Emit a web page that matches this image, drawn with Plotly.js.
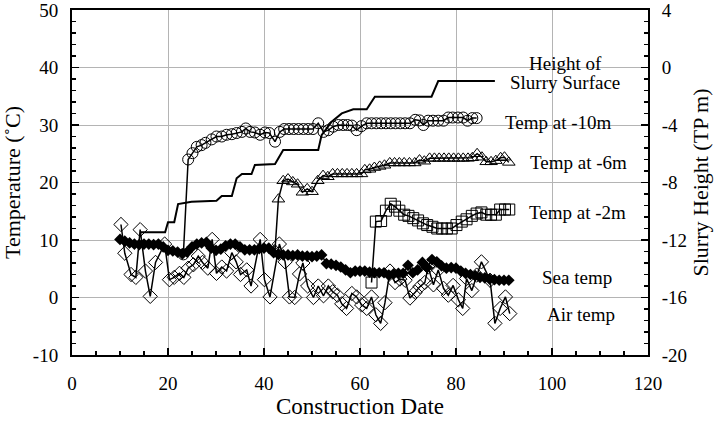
<!DOCTYPE html>
<html>
<head>
<meta charset="utf-8">
<script src="https://cdn.plot.ly/plotly-3.0.1.min.js"></script>
<style>html,body{margin:0;padding:0;background:#fff;}#chart{width:716px;height:425px;}</style>
</head>
<body>
<div id="chart"></div>
<script>
// Height of slurry surface (TP m, right axis)
const slurryX = [14.2, 19.4, 20.0, 21.3, 22.1, 24.9, 30.1, 31.2, 33.3, 34.3, 35.4, 37.4, 38.1, 42.3, 44.0, 51.3, 52.0, 54.1, 56.2, 58.6, 61.4, 63.1, 74.9, 76.3, 88.1];
const slurryH = [-11.46, -11.46, -10.77, -10.77, -9.50, -9.34, -9.27, -8.94, -8.94, -7.71, -7.41, -7.41, -6.78, -6.71, -5.74, -5.74, -4.70, -3.77, -3.19, -2.91, -2.91, -2.03, -2.03, -0.94, -0.94];

// Temp at -10m
const t10X = [23.2, 24.2, 25.1, 26.0, 27.0, 27.8, 29.1, 30.1, 31.2, 32.2, 33.3, 34.3, 35.4, 36.2, 37.1, 38.1, 39.2, 40.2, 41.1, 42.3, 43.3, 44.2, 45.2, 46.2, 47.2, 48.2, 49.2, 50.2, 51.3, 52.4, 53.4, 54.4, 55.5, 56.5, 57.4, 58.3, 59.3, 60.3, 61.4, 62.4, 63.4, 64.4, 65.4, 66.4, 67.4, 68.4, 69.4, 70.4, 71.5, 72.4, 73.2, 74.2, 75.2, 76.3, 77.4, 78.4, 79.3, 80.4, 81.5, 82.4, 83.4, 84.3];
const t10Y = [7.5, 24.0, 25.1, 26.2, 26.5, 26.9, 27.5, 28.0, 28.0, 28.3, 28.4, 28.6, 28.8, 29.4, 28.8, 28.7, 28.3, 28.7, 28.6, 27.1, 28.8, 29.3, 29.3, 29.3, 29.3, 29.3, 29.3, 29.3, 30.3, 28.8, 29.1, 29.7, 30.0, 30.0, 30.0, 29.9, 29.1, 29.8, 30.3, 30.3, 30.3, 30.3, 30.3, 30.3, 30.3, 30.3, 30.3, 30.3, 30.9, 30.8, 30.0, 30.75, 30.75, 30.75, 30.75, 31.3, 31.3, 31.3, 31.3, 30.75, 31.2, 31.2];

// Temp at -6m
const t6X = [42.3, 43.0, 44.0, 45.0, 46.0, 47.0, 48.0, 49.0, 50.0, 51.2, 52.3, 53.3, 54.3, 55.3, 56.3, 57.3, 58.3, 59.3, 60.3, 61.0, 62.0, 63.0, 64.1, 65.1, 66.2, 67.2, 68.2, 69.2, 70.3, 71.4, 72.4, 73.4, 74.5, 75.5, 76.5, 77.5, 78.5, 79.5, 80.5, 81.5, 82.5, 83.4, 84.4, 85.4, 86.3, 87.3, 88.3, 89.3, 90.1, 91.0];
const t6Y = [8.3, 17.1, 20.3, 20.6, 20.1, 19.7, 18.3, 18.9, 18.4, 20.3, 21.2, 21.0, 21.5, 21.5, 21.5, 21.5, 21.5, 21.5, 21.5, 22.2, 22.3, 22.6, 22.8, 23.0, 23.4, 23.4, 23.4, 23.4, 23.4, 23.4, 23.9, 23.7, 24.2, 24.2, 24.2, 24.2, 24.2, 24.2, 24.2, 24.2, 24.2, 24.3, 25.0, 24.4, 23.6, 23.6, 23.8, 24.3, 24.4, 23.5];

// Temp at -2m
const t2X = [62.4, 63.3, 64.4, 65.4, 66.4, 67.3, 68.2, 69.2, 70.1, 71.1, 72.1, 73.1, 74.0, 75.1, 76.1, 77.1, 78.1, 79.1, 80.1, 81.2, 82.2, 83.3, 84.3, 85.3, 86.3, 87.3, 88.3, 89.2, 90.2, 91.1];
const t2Y = [2.6, 13.2, 13.3, 15.1, 16.3, 15.8, 15.1, 14.4, 14.2, 13.8, 13.4, 12.9, 12.6, 12.3, 12.0, 12.0, 12.0, 12.0, 12.6, 13.2, 13.6, 14.2, 14.6, 14.8, 14.4, 14.4, 14.4, 15.3, 15.3, 15.3];

// Sea temp
const seaX = [10, 11, 12, 13, 14, 15, 16, 17, 18, 19, 20, 21, 22, 23, 24, 25, 26, 27, 28, 29, 30, 31, 32, 33, 34, 35, 36, 37, 38, 39, 40, 41, 42, 43, 44, 45, 46, 47, 48, 49, 50, 51, 52, 53, 54, 55, 56, 57, 58, 59, 60, 61, 62, 63, 64, 65, 66, 67, 68, 69, 70, 71, 72, 73, 74, 75, 76, 77, 78, 79, 80, 81, 82, 83, 84, 85, 86, 87, 88, 89, 90, 91];
const seaY = [10.1, 9.8, 9.5, 9.3, 9.2, 9.3, 9.3, 9.2, 9.3, 8.8, 8.2, 8.1, 7.9, 7.6, 7.9, 8.8, 9.3, 9.5, 9.6, 8.6, 8.2, 8.4, 9.0, 9.3, 9.3, 8.8, 8.3, 8.3, 8.3, 8.5, 8.6, 8.6, 7.8, 7.5, 7.4, 7.4, 7.3, 7.4, 7.2, 7.2, 7.1, 7.2, 7.4, 5.9, 5.8, 5.6, 5.3, 4.8, 4.3, 4.6, 4.6, 4.6, 4.4, 4.3, 4.3, 4.3, 3.9, 4.1, 4.2, 4.2, 5.6, 4.3, 4.8, 6.1, 5.2, 6.6, 6.2, 5.5, 5.1, 5.2, 5.1, 4.6, 4.2, 4.0, 3.8, 3.5, 3.4, 3.2, 3.1, 3.0, 3.0, 3.0];

// Air temp
const airX = [10.2, 11.0, 12.3, 13.3, 14.2, 15.3, 16.3, 17.4, 19.3, 20.3, 21.3, 22.4, 23.3, 24.2, 25.3, 26.3, 27.2, 28.3, 29.2, 30.1, 31.2, 32.2, 33.3, 34.2, 35.1, 36.4, 37.3, 39.2, 40.1, 41.25, 43.2, 44.4, 45.3, 46.4, 47.4, 48.1, 49.1, 50.3, 51.3, 52.4, 53.4, 54.3, 55.3, 56.2, 57.2, 58.3, 59.3, 60.35, 61.4, 62.4, 63.3, 64.3, 65.2, 66.25, 67.3, 68.3, 69.4, 70.4, 71.5, 72.5, 73.5, 74.2, 75.3, 76.3, 77.4, 78.4, 79.4, 80.5, 81.4, 82.2, 83.3, 84.3, 85.3, 87.1, 88.1, 89.2, 90.3, 91.2];
const airY = [12.7, 7.7, 4.0, 3.5, 11.8, 4.6, 0.2, 6.1, 9.3, 3.1, 3.5, 4.2, 3.5, 5.1, 5.7, 7.2, 6.1, 5.1, 10.1, 4.2, 5.3, 4.6, 7.8, 6.2, 4.0, 4.8, 2.0, 10.1, 3.1, 0.1, 9.3, 6.2, 0.1, 0.0, 4.1, 6.0, 2.0, 0.0, 2.0, 0.3, 2.0, 1.0, 0.4, -1.1, -1.9, 0.7, 0.1, -1.3, -1.9, 0.1, -3.0, -4.5, -0.9, 4.6, 2.6, 3.2, 3.0, -0.1, 0.9, 1.9, 2.6, 5.3, 2.2, 4.8, 1.6, 0.4, 2.1, -0.4, -1.9, 3.3, 1.2, 3.9, 6.2, 3.0, -4.5, -1.9, 0.1, -2.8];

// Tick labels
const xTickVals = [0, 20, 40, 60, 80, 100, 120];
const yTickVals = [-10, 0, 10, 20, 30, 40, 50];
const yTickText = ['-10', '0', '10', '20', '30', '40', '50'];
const y2TickVals = [-20, -16, -12, -8, -4, 0, 4];
const y2TickText = ['-20', '-16', '-12', '-8', '-4', '0', '4'];

// Labels for series
const seriesLabels = [
  {text: 'Height of', x: 0.857, y: 0.846},
  {text: 'Slurry Surface', x: 0.856, y: 0.791},
  {text: 'Temp at -10m', x: 0.845, y: 0.675},
  {text: 'Temp at -6m', x: 0.880, y: 0.557},
  {text: 'Temp at -2m', x: 0.878, y: 0.414},
  {text: 'Sea temp', x: 0.876, y: 0.226},
  {text: 'Air temp', x: 0.883, y: 0.116}
];

const FONT = 'Liberation Serif';
const lineStyle = {color: '#000', width: 1.5};

const traces = [
  {x: slurryX, y: slurryH, yaxis: 'y2', mode: 'lines', line: {color: '#000', width: 2}, name: 'Height of Slurry Surface'},
  {x: seaX, y: seaY, mode: 'lines+markers', line: lineStyle, marker: {symbol: 'diamond', size: 9, color: '#000'}, name: 'Sea temp'},
  {x: airX, y: airY, mode: 'lines+markers', line: lineStyle, marker: {symbol: 'diamond-open', size: 11, color: '#000', line: {width: 1}}, name: 'Air temp'},
  {x: t10X, y: t10Y, mode: 'lines+markers', line: lineStyle, marker: {symbol: 'circle-open', size: 11, color: '#000', line: {width: 1}}, name: 'Temp at -10m'},
  {x: t6X, y: t6Y, mode: 'lines+markers', line: lineStyle, marker: {symbol: 'triangle-up-open', size: 11, color: '#000', line: {width: 1}}, name: 'Temp at -6m'},
  {x: t2X, y: t2Y, mode: 'lines+markers', line: lineStyle, marker: {symbol: 'square-open', size: 11, color: '#000', line: {width: 1}}, name: 'Temp at -2m'}
];

const layout = {
  width: 716, height: 425,
  margin: {l: 72, r: 68, t: 10, b: 70},
  paper_bgcolor: '#fff', plot_bgcolor: '#fff',
  showlegend: false,
  font: {family: FONT, size: 18, color: '#000'},
  xaxis: {
    range: [0, 120], tickmode: 'array', tickvals: xTickVals,
    ticks: 'inside', ticklen: 7, tickwidth: 1.5, tickcolor: '#000',
    ticklabelstandoff: 10, ticklabeloverflow: 'allow',
    minor: {ticks: 'inside', tickmode: 'linear', tick0: 0, dtick: 5, ticklen: 4, tickcolor: '#000', showgrid: false},
    showline: true, linewidth: 2, linecolor: '#000', mirror: true,
    showgrid: true, gridcolor: '#b4b4b4', gridwidth: 1,
    zeroline: false,
    tickfont: {family: FONT, size: 19},
    title: {text: 'Construction Date', font: {family: FONT, size: 23}, standoff: 4}
  },
  yaxis: {
    range: [-10, 50], tickmode: 'array', tickvals: yTickVals, ticktext: yTickText,
    ticks: 'inside', ticklen: 7, tickwidth: 1.5, tickcolor: '#000',
    ticklabelstandoff: 8, ticklabeloverflow: 'allow',
    minor: {ticks: 'inside', tickmode: 'linear', tick0: 0, dtick: 2, ticklen: 4, tickcolor: '#000', showgrid: false},
    showline: true, linewidth: 2, linecolor: '#000',
    showgrid: true, gridcolor: '#b4b4b4', gridwidth: 1,
    zeroline: false,
    tickfont: {family: FONT, size: 19},
    title: {text: 'Temperature (˚C)', font: {family: FONT, size: 22}, standoff: 6}
  },
  yaxis2: {
    overlaying: 'y', side: 'right',
    range: [-20, 4], tickmode: 'array', tickvals: y2TickVals, ticktext: y2TickText,
    ticks: 'inside', ticklen: 7, tickwidth: 1.5, tickcolor: '#000',
    ticklabelstandoff: 8, ticklabeloverflow: 'allow',
    minor: {ticks: 'inside', tickmode: 'linear', tick0: 0, dtick: 0.8, ticklen: 4, tickcolor: '#000', showgrid: false},
    showline: true, linewidth: 2, linecolor: '#000',
    showgrid: false, zeroline: false,
    tickfont: {family: FONT, size: 19},
    title: {text: 'Slurry Height (TP m)', font: {family: FONT, size: 22}, standoff: 6}
  },
  annotations: seriesLabels.map(l => ({
    text: l.text, x: l.x, y: l.y, xref: 'paper', yref: 'paper',
    showarrow: false, xanchor: 'center', yanchor: 'middle',
    font: {family: FONT, size: 19, color: '#000'}
  }))
};

Plotly.newPlot('chart', traces, layout, {displayModeBar: false, staticPlot: true});
</script>
</body>
</html>
